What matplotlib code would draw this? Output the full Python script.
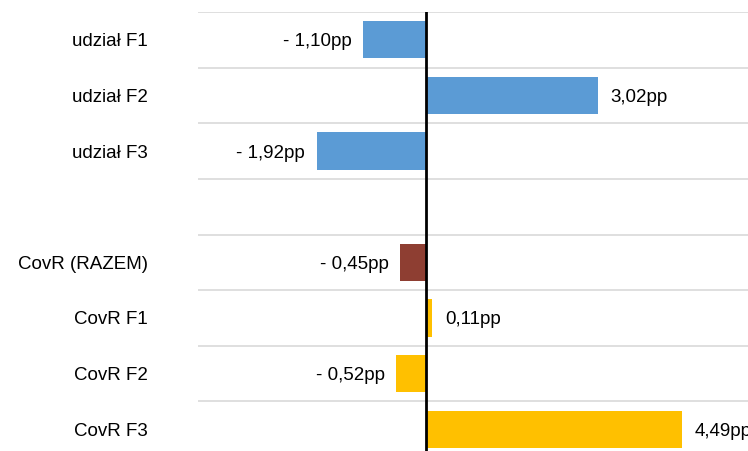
import numpy as np
import matplotlib
matplotlib.use('Agg')
import matplotlib.pyplot as plt

plt.rcParams['font.family'] = ['Liberation Sans', 'DejaVu Sans']

# dane (pp); pusty wiersz oddziela grupy
categories = ['udział F1', 'udział F2', 'udział F3', '',
              'CovR (RAZEM)', 'CovR F1', 'CovR F2', 'CovR F3']
values = [-1.10, 3.02, -1.92, np.nan, -0.45, 0.11, -0.52, 4.49]
groups = ['udzial', 'udzial', 'udzial', None, 'razem', 'covr', 'covr', 'covr']

colors = {'udzial': '#5B9BD5', 'razem': '#8E3E32', 'covr': '#FFC000', None: 'none'}

fig = plt.figure(figsize=(7.48, 4.51), dpi=100)
ax = fig.add_axes([198 / 748, -6 / 451, 570 / 748, 445 / 451])

y = np.arange(len(categories))
ax.barh(y, values, height=0.67, color=[colors[g] for g in groups], zorder=2)

fs = 13.5
for yi, v in zip(y, values):
    if np.isnan(v):
        continue
    txt = f'{abs(v):.2f}'.replace('.', ',') + 'pp'
    if v < 0:
        txt = '- ' + txt
        ax.annotate(txt, (v, yi), xytext=(-8.5, 0), textcoords='offset points',
                    ha='right', va='center_baseline', fontsize=fs)
    else:
        ax.annotate(txt, (v, yi), xytext=(9, 0), textcoords='offset points',
                    ha='left', va='center_baseline', fontsize=fs)

ax.axvline(0, color='black', lw=2, zorder=3)

ax.set_xlim(-4, 6)
ax.set_ylim(len(categories) - 0.5, -0.5)
ax.set_yticks(y, categories, fontsize=fs)
ax.set_yticks(np.arange(len(categories) + 1) - 0.5, minor=True)
ax.tick_params(axis='y', which='both', length=0, pad=36)
ax.set_xticks([])
ax.grid(axis='y', which='minor', color='#D9D9D9', lw=1.2, zorder=0)
ax.grid(axis='y', which='major', visible=False)
for s in ax.spines.values():
    s.set_visible(False)

plt.savefig('out.png', dpi=100)
